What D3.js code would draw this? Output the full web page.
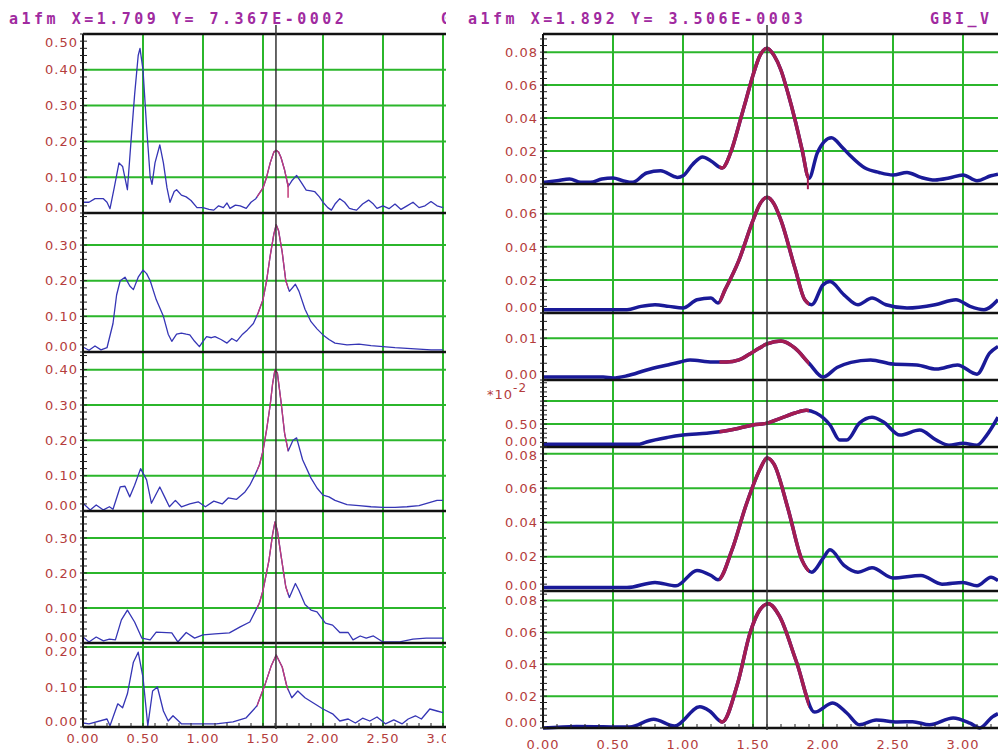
<!DOCTYPE html>
<html>
<head>
<meta charset="utf-8">
<script src="https://cdn.jsdelivr.net/npm/d3@7"></script>
<style>
  html, body { margin: 0; padding: 0; background: #fff; }
  svg { display: block; }
  .ylab, .xlab { font-family: "DejaVu Sans", Verdana, sans-serif; font-size: 13px; letter-spacing: 1px; fill: #b43c3c; }
  .hdr { font-family: "DejaVu Sans Mono", monospace; font-weight: bold; font-size: 15px; letter-spacing: 3.5px; fill: #a02aa0; }
</style>
</head>
<body>
<svg id="chart" width="998" height="753"></svg>
<script>
// ---- data: [x, value] pairs ----
const left1 = [[0,0.03],[0.05,0.03],[0.1,0.04],[0.17,0.04],[0.2,0.03],[0.225,0.012],[0.26,0.07],[0.3,0.14],[0.33,0.13],[0.37,0.065],[0.4,0.2],[0.43,0.33],[0.46,0.44],[0.475,0.46],[0.5,0.4],[0.53,0.24],[0.56,0.1],[0.575,0.08],[0.6,0.14],[0.64,0.19],[0.67,0.14],[0.7,0.07],[0.725,0.03],[0.76,0.06],[0.78,0.065],[0.82,0.05],[0.86,0.045],[0.9,0.035],[0.95,0.015],[1.0,0.015],[1.05,0.01],[1.09,0.008],[1.13,0.02],[1.17,0.015],[1.2,0.028],[1.225,0.013],[1.27,0.022],[1.31,0.02],[1.36,0.013],[1.4,0.03],[1.44,0.04],[1.5,0.07],[1.53,0.1],[1.56,0.14],[1.59,0.17],[1.61,0.175],[1.63,0.17],[1.65,0.155],[1.68,0.12],[1.71,0.074],[1.74,0.09],[1.78,0.105],[1.82,0.085],[1.86,0.064],[1.9,0.062],[1.93,0.06],[1.97,0.045],[2.0,0.03],[2.04,0.015],[2.07,0.008],[2.1,0.025],[2.14,0.04],[2.18,0.03],[2.22,0.013],[2.25,0.01],[2.28,0.008],[2.33,0.025],[2.38,0.036],[2.42,0.025],[2.45,0.013],[2.5,0.02],[2.55,0.012],[2.6,0.025],[2.65,0.01],[2.7,0.02],[2.75,0.03],[2.8,0.015],[2.85,0.02],[2.9,0.032],[2.95,0.02],[3.0,0.015]];
const left2 = [[0,0.014],[0.05,0.005],[0.1,0.017],[0.15,0.006],[0.2,0.012],[0.25,0.08],[0.28,0.16],[0.31,0.2],[0.35,0.21],[0.39,0.185],[0.42,0.175],[0.46,0.21],[0.5,0.23],[0.53,0.22],[0.56,0.2],[0.61,0.147],[0.67,0.1],[0.71,0.05],[0.74,0.03],[0.78,0.05],[0.82,0.053],[0.86,0.05],[0.89,0.048],[0.93,0.03],[0.97,0.015],[1.0,0.03],[1.03,0.043],[1.07,0.04],[1.1,0.043],[1.15,0.035],[1.2,0.025],[1.24,0.038],[1.28,0.03],[1.33,0.05],[1.37,0.062],[1.42,0.08],[1.46,0.11],[1.5,0.147],[1.53,0.2],[1.56,0.27],[1.59,0.33],[1.61,0.357],[1.63,0.34],[1.66,0.28],[1.69,0.2],[1.72,0.17],[1.77,0.19],[1.8,0.17],[1.85,0.12],[1.9,0.085],[1.95,0.065],[2.0,0.048],[2.05,0.035],[2.1,0.025],[2.2,0.02],[2.3,0.022],[2.4,0.018],[2.5,0.015],[2.6,0.012],[2.7,0.01],[2.8,0.008],[2.9,0.006],[3.0,0.006]];
const left3 = [[0,0.022],[0.06,0.003],[0.11,0.017],[0.17,0.003],[0.22,0.012],[0.25,0.005],[0.31,0.068],[0.35,0.07],[0.39,0.04],[0.43,0.073],[0.48,0.12],[0.53,0.088],[0.57,0.022],[0.64,0.068],[0.68,0.04],[0.72,0.012],[0.77,0.03],[0.82,0.012],[0.89,0.02],[0.96,0.026],[1.02,0.012],[1.09,0.028],[1.16,0.02],[1.21,0.037],[1.28,0.033],[1.35,0.054],[1.39,0.073],[1.43,0.1],[1.47,0.13],[1.5,0.17],[1.53,0.23],[1.56,0.3],[1.58,0.36],[1.6,0.4],[1.62,0.39],[1.65,0.31],[1.68,0.22],[1.71,0.17],[1.75,0.2],[1.78,0.207],[1.83,0.145],[1.9,0.093],[1.95,0.065],[2.0,0.045],[2.05,0.04],[2.1,0.03],[2.2,0.018],[2.3,0.015],[2.4,0.012],[2.5,0.01],[2.6,0.01],[2.7,0.012],[2.8,0.015],[2.9,0.025],[2.95,0.03],[3.0,0.03]];
const left4 = [[0,0.017],[0.05,0.003],[0.11,0.017],[0.17,0.006],[0.22,0.011],[0.27,0.009],[0.32,0.066],[0.37,0.094],[0.43,0.06],[0.49,0.014],[0.56,0.009],[0.61,0.031],[0.74,0.029],[0.79,0.003],[0.86,0.03],[0.93,0.014],[1.0,0.023],[1.1,0.026],[1.22,0.029],[1.31,0.046],[1.39,0.06],[1.47,0.114],[1.5,0.15],[1.55,0.237],[1.58,0.31],[1.6,0.346],[1.62,0.32],[1.65,0.25],[1.69,0.16],[1.72,0.13],[1.77,0.17],[1.8,0.15],[1.85,0.11],[1.9,0.094],[1.95,0.089],[2.02,0.057],[2.08,0.051],[2.14,0.03],[2.21,0.03],[2.25,0.009],[2.31,0.02],[2.36,0.014],[2.42,0.02],[2.5,0.003],[2.64,0.003],[2.75,0.011],[2.86,0.014],[3.0,0.014]];
const left5 = [[0,0.01],[0.05,0.008],[0.2,0.02],[0.225,0.003],[0.29,0.058],[0.33,0.048],[0.37,0.083],[0.42,0.162],[0.46,0.187],[0.5,0.124],[0.54,0.003],[0.58,0.09],[0.62,0.1],[0.67,0.04],[0.71,0.015],[0.75,0.028],[0.82,0.008],[0.97,0.008],[1.11,0.008],[1.25,0.013],[1.36,0.023],[1.45,0.053],[1.52,0.109],[1.57,0.154],[1.61,0.18],[1.66,0.15],[1.7,0.1],[1.74,0.073],[1.79,0.09],[1.85,0.073],[1.92,0.06],[2.0,0.045],[2.08,0.033],[2.14,0.015],[2.21,0.02],[2.27,0.01],[2.33,0.022],[2.39,0.015],[2.45,0.025],[2.52,0.008],[2.59,0.018],[2.66,0.008],[2.71,0.02],[2.77,0.028],[2.82,0.02],[2.89,0.045],[2.95,0.04],[3.0,0.036]];

const right1 = [[0,0.001],[0.1,0.002],[0.19,0.003],[0.27,0.001],[0.34,0.001],[0.42,0.003],[0.5,0.0036],[0.57,0.002],[0.64,0.001],[0.74,0.0067],[0.84,0.008],[0.96,0.004],[1.0,0.005],[1.07,0.012],[1.14,0.0164],[1.2,0.014],[1.28,0.0097],[1.34,0.019],[1.41,0.039],[1.45,0.051],[1.5,0.066],[1.55,0.078],[1.6,0.0824],[1.65,0.078],[1.7,0.069],[1.75,0.055],[1.8,0.039],[1.85,0.021],[1.9,0.0035],[1.96,0.019],[2.06,0.028],[2.14,0.022],[2.19,0.0176],[2.3,0.0097],[2.4,0.007],[2.5,0.0055],[2.6,0.007],[2.7,0.004],[2.8,0.0024],[2.9,0.0036],[3.0,0.0055],[3.1,0.002],[3.2,0.005],[3.25,0.006]];
const right2 = [[0,0.002],[0.2,0.002],[0.4,0.002],[0.6,0.002],[0.7,0.004],[0.8,0.005],[0.9,0.004],[1.0,0.003],[1.1,0.008],[1.2,0.009],[1.25,0.006],[1.3,0.014],[1.4,0.032],[1.5,0.056],[1.55,0.066],[1.6,0.07],[1.65,0.066],[1.7,0.056],[1.8,0.027],[1.87,0.008],[1.92,0.005],[2.0,0.017],[2.05,0.019],[2.15,0.011],[2.25,0.005],[2.35,0.009],[2.45,0.005],[2.6,0.003],[2.8,0.005],[2.95,0.008],[3.05,0.004],[3.15,0.002],[3.25,0.008]];
const right3 = [[0,0.0007],[0.43,0.0007],[0.5,0.0005],[0.6,0.001],[0.74,0.0024],[0.89,0.0036],[0.98,0.0043],[1.05,0.0048],[1.21,0.0043],[1.31,0.0043],[1.4,0.0048],[1.5,0.0067],[1.6,0.0086],[1.7,0.0093],[1.8,0.0076],[1.9,0.004],[2.0,0.0007],[2.1,0.003],[2.2,0.0042],[2.34,0.0048],[2.5,0.0038],[2.67,0.0036],[2.81,0.0026],[2.96,0.0036],[3.1,0.0014],[3.19,0.0064],[3.25,0.008]];
// fourth right trace is plotted in units of 10^-2
const right4 = [[0,0.06],[0.69,0.06],[0.74,0.11],[0.89,0.21],[1.0,0.26],[1.17,0.3],[1.26,0.33],[1.4,0.41],[1.5,0.48],[1.6,0.52],[1.7,0.63],[1.8,0.74],[1.88,0.8],[1.95,0.74],[2.05,0.48],[2.12,0.15],[2.17,0.15],[2.26,0.52],[2.35,0.65],[2.43,0.55],[2.55,0.26],[2.69,0.37],[2.81,0.15],[2.9,0.04],[3.0,0.08],[3.1,0.04],[3.17,0.26],[3.25,0.65]];
const right5 = [[0,0.002],[0.3,0.002],[0.6,0.002],[0.8,0.005],[0.95,0.003],[1.1,0.012],[1.2,0.009],[1.25,0.0065],[1.35,0.024],[1.45,0.05],[1.55,0.071],[1.6,0.0776],[1.65,0.074],[1.75,0.048],[1.85,0.018],[1.92,0.011],[2.0,0.019],[2.05,0.024],[2.15,0.015],[2.25,0.011],[2.35,0.0135],[2.5,0.0076],[2.7,0.009],[2.85,0.004],[3.0,0.005],[3.1,0.003],[3.2,0.008],[3.25,0.006]];
const right6 = [[0,0],[0.24,0.001],[0.62,0.0006],[0.79,0.0055],[0.94,0.0013],[1.12,0.0133],[1.19,0.0107],[1.28,0.0038],[1.39,0.028],[1.48,0.06],[1.55,0.0743],[1.61,0.078],[1.69,0.07],[1.81,0.0416],[1.94,0.01],[2.07,0.0157],[2.17,0.0094],[2.26,0.002],[2.38,0.005],[2.53,0.0038],[2.64,0.004],[2.76,0.002],[2.93,0.0063],[3.05,0.003],[3.12,0],[3.21,0.007],[3.25,0.009]];

// panel value ranges and tick steps
const leftMax = [0.5, 0.39, 0.45, 0.377, 0.21];
const leftStep = [0.1, 0.1, 0.1, 0.1, 0.1];
const rightMax = [0.091, 0.078, 0.016, 1.46, 0.084, 0.086];
const rightStep = [0.02, 0.02, 0.01, 0.5, 0.02, 0.02];
const rightLabelled = [null, null, null, [0, 0.5], null, null];

const xTicks = [0, 0.5, 1.0, 1.5, 2.0, 2.5, 3.0];
const leftCursor = { x: 1.608, markX: 1.709, markY: 7.367e-2, header: "a1fm X=1.709 Y= 7.367E-0002" };
const rightCursor = { x: 1.6, markX: 1.892, markY: 3.506e-3, header: "a1fm X=1.892 Y= 3.506E-0003" };

const svg = d3.select("#chart");
const defs = svg.append("defs");
const GREEN = "#2bb62b";

function drawChart(o) {
  const x = o.x;
  const x0 = x.range()[0];
  defs.append("clipPath").attr("id", o.id + "-clip").append("rect")
    .attr("x", 0).attr("y", 0).attr("width", o.clipRight).attr("height", 753);
  defs.append("clipPath").attr("id", o.id + "-red").append("rect")
    .attr("x", x(o.red[0])).attr("y", 0).attr("width", x(o.red[1]) - x(o.red[0])).attr("height", 753);

  const g = svg.append("g").attr("clip-path", `url(#${o.id}-clip)`);
  const top = o.tops[0], bottom = o.tops[o.tops.length - 1];

  const panels = o.series.map((s, i) => ({
    data: s, max: o.max[i], step: o.step[i],
    top: o.tops[i], bottom: o.tops[i + 1],
    y: d3.scaleLinear().domain([0, o.max[i]]).range([o.tops[i + 1], o.tops[i]])
  }));

  // horizontal grid lines
  panels.forEach(p => {
    const n = Math.floor(p.max / p.step + 1e-6);
    const vals = d3.range(1, n + 1).map(k => k * p.step);
    g.selectAll(null).data(vals).join("line")
      .attr("x1", x0).attr("x2", o.clipRight)
      .attr("y1", d => p.y(d)).attr("y2", d => p.y(d))
      .attr("stroke", GREEN).attr("stroke-width", 2);
  });

  // vertical grid lines
  g.selectAll(null).data(xTicks.filter(d => d > 0)).join("line")
    .attr("x1", d => x(d)).attr("x2", d => x(d))
    .attr("y1", top).attr("y2", bottom)
    .attr("stroke", GREEN).attr("stroke-width", 2);

  // traces, blue with the cursor window redrawn in red
  panels.forEach(p => {
    const line = d3.line().x(d => x(d[0])).y(d => p.y(d[1])).curve(o.curve);
    g.append("path").datum(p.data).attr("d", line)
      .attr("fill", "none").attr("stroke", o.blue).attr("stroke-width", o.width)
      .attr("stroke-linejoin", "round");
    g.append("g").attr("clip-path", `url(#${o.id}-red)`)
      .append("path").datum(p.data).attr("d", line)
      .attr("fill", "none").attr("stroke", o.redColor).attr("stroke-width", o.width)
      .attr("stroke-linejoin", "round");
  });

  // panel separators
  g.selectAll(null).data(o.tops).join("line")
    .attr("x1", x0).attr("x2", o.clipRight)
    .attr("y1", d => d).attr("y2", d => d)
    .attr("stroke", "#111").attr("stroke-width", 2.5);

  // y axis line and minor ticks
  g.append("line").attr("x1", x0).attr("x2", x0).attr("y1", top).attr("y2", bottom)
    .attr("stroke", "#111").attr("stroke-width", 2);
  panels.forEach(p => {
    const minor = p.step / 5;
    const vals = d3.range(0, Math.floor(p.max / minor + 1e-6) + 1).map(k => k * minor);
    g.selectAll(null).data(vals).join("line")
      .attr("x1", x0 - 3).attr("x2", x0 + 4)
      .attr("y1", d => p.y(d)).attr("y2", d => p.y(d))
      .attr("stroke", "#222").attr("stroke-width", 1);
  });

  // x minor ticks along the bottom
  g.selectAll(null).data(d3.range(0, Math.round(x.domain()[1] * 10) + 1).map(k => k / 10)).join("line")
    .attr("x1", d => x(d)).attr("x2", d => x(d))
    .attr("y1", bottom - 4).attr("y2", bottom)
    .attr("stroke", "#222").attr("stroke-width", 1);

  // y labels, nudged inside their panel
  const fmt = d3.format(".2f");
  panels.forEach((p, i) => {
    const n = Math.floor(p.max / p.step + 1e-6);
    const vals = o.labelled[i] || d3.range(0, n + 1).map(k => k * p.step);
    g.selectAll(null).data(vals).join("text").attr("class", "ylab")
      .attr("x", x0 - 5)
      .attr("y", d => Math.max(p.top + 8, Math.min(p.bottom - 6, p.y(d))))
      .attr("dy", "0.36em").attr("text-anchor", "end")
      .text(d => fmt(d));
  });

  // x labels
  g.selectAll(null).data(xTicks).join("text").attr("class", "xlab")
    .attr("x", d => x(d)).attr("y", o.xLabelY).attr("text-anchor", "middle")
    .text(d => fmt(d));

  // cursor
  const c = o.cursor;
  g.append("line").attr("x1", x(c.x)).attr("x2", x(c.x))
    .attr("y1", 25).attr("y2", bottom + 2)
    .attr("stroke", "#333").attr("stroke-width", 1.5);
  const py = panels[0].y(c.markY);
  g.append("line").attr("x1", x(c.markX)).attr("x2", x(c.markX))
    .attr("y1", py - 4).attr("y2", py + 11)
    .attr("stroke", o.redColor).attr("stroke-width", o.id === "left" ? 1.5 : 2);

  // header
  g.append("text").attr("class", "hdr").attr("x", o.headerX).attr("y", 24).text(c.header);
  g.append("text").attr("class", "hdr").attr("x", o.tagX).attr("y", 24).text(o.tag);
  return panels;
}

drawChart({
  id: "left",
  x: d3.scaleLinear().domain([0, 3.0]).range([83, 443]),
  clipRight: 446,
  tops: [34, 213, 352, 511, 643, 727],
  series: [left1, left2, left3, left4, left5],
  max: leftMax, step: leftStep, labelled: [null, null, null, null, null],
  red: [1.45, 1.71],
  blue: "#3535b5", redColor: "#c23a78", width: 1.3,
  curve: d3.curveLinear,
  xLabelY: 743,
  cursor: leftCursor,
  headerX: 9, tagX: 441, tag: "G"
});

drawChart({
  id: "right",
  x: d3.scaleLinear().domain([0, 3.25]).range([543, 998]),
  clipRight: 998,
  tops: [34, 184, 313, 380, 447, 591, 728],
  series: [right1, right2, right3, right4, right5, right6],
  max: rightMax, step: rightStep, labelled: rightLabelled,
  red: [1.26, 1.9],
  blue: "#1a1a98", redColor: "#a41c52", width: 3.5,
  curve: d3.curveMonotoneX,
  xLabelY: 749,
  cursor: rightCursor,
  headerX: 468, tagX: 930, tag: "GBI_V"
});

// scale multiplier for the fourth right panel
const mult = svg.append("text").attr("class", "ylab").attr("x", 487).attr("y", 399);
mult.append("tspan").text("*10");
mult.append("tspan").attr("dy", -7).attr("font-size", "12px").text("-2");
</script>
</body>
</html>
